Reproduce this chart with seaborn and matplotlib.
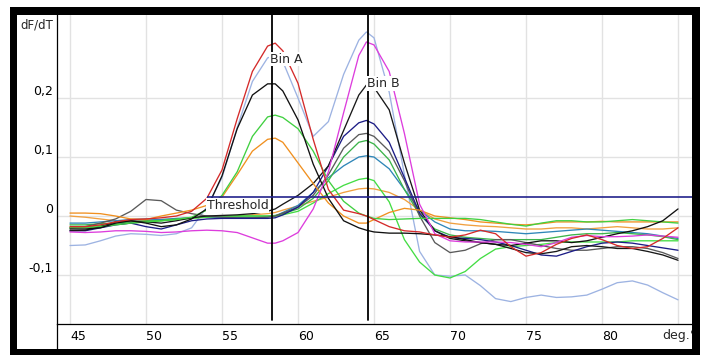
import numpy as np
import pandas as pd
import matplotlib
matplotlib.use("Agg")
import matplotlib.pyplot as plt
import seaborn as sns
from matplotlib.patches import Rectangle
from matplotlib.lines import Line2D
from matplotlib.transforms import Bbox, TransformedBbox

# ---------------- data ----------------
temps = [45, 46, 47, 48, 49, 50, 51, 52, 53, 54, 55, 56, 57, 58, 58.5,
         59, 60, 61, 62, 63, 64, 64.5, 65, 66, 67, 68, 69, 70, 71, 72,
         73, 74, 75, 76, 77, 78, 79, 80, 81, 82, 83, 84, 85]

pale_blue = [-0.05, -0.049, -0.042, -0.034, -0.03, -0.031, -0.033, -0.03, -0.02, 0.015,
             0.065, 0.15, 0.228, 0.268, 0.272, 0.262, 0.2, 0.135, 0.16, 0.24, 0.298, 0.312,
             0.302, 0.21, 0.07, -0.06, -0.1, -0.102, -0.1, -0.118, -0.14, -0.145, -0.138,
             -0.134, -0.138, -0.137, -0.134, -0.124, -0.113, -0.11, -0.117, -0.13, -0.142]
orange_b = [0.0, -0.002, -0.005, -0.008, -0.01, -0.008, -0.006, -0.005, -0.003, -0.002,
            -0.002, 0.0, 0.002, 0.004, 0.006, 0.01, 0.017, 0.025, 0.032, 0.04, 0.046, 0.047,
            0.046, 0.04, 0.028, 0.01, -0.005, -0.012, -0.015, -0.017, -0.018, -0.02, -0.022,
            -0.022, -0.02, -0.02, -0.022, -0.02, -0.018, -0.02, -0.022, -0.022, -0.02]
teal = [-0.012, -0.012, -0.01, -0.008, -0.006, -0.005, -0.006, -0.004, -0.003, -0.002,
        -0.002, -0.002, -0.002, -0.001, 0.0, 0.006, 0.018, 0.04, 0.065, 0.085, 0.1, 0.102,
        0.1, 0.08, 0.045, 0.01, -0.01, -0.022, -0.025, -0.025, -0.026, -0.028, -0.03,
        -0.028, -0.026, -0.024, -0.022, -0.024, -0.026, -0.028, -0.03, -0.034, -0.038]
green_b1 = [-0.015, -0.015, -0.013, -0.012, -0.01, -0.008, -0.008, -0.005, -0.003, -0.001,
            0.0, 0.0, 0.0, 0.0, 0.001, 0.004, 0.012, 0.03, 0.06, 0.1, 0.125, 0.128,
            0.122, 0.095, 0.045, 0.002, -0.022, -0.032, -0.036, -0.038, -0.04, -0.04, -0.04,
            -0.04, -0.036, -0.032, -0.03, -0.03, -0.028, -0.03, -0.032, -0.035, -0.04]
green_b2 = [-0.02, -0.019, -0.016, -0.014, -0.012, -0.01, -0.008, -0.006, -0.004, -0.002,
            0.0, 0.0, 0.0, 0.0, 0.0, 0.002, 0.008, 0.022, 0.038, 0.052, 0.062, 0.064,
            0.06, 0.024, -0.04, -0.078, -0.1, -0.105, -0.094, -0.072, -0.056, -0.052, -0.05,
            -0.048, -0.045, -0.044, -0.044, -0.044, -0.044, -0.042, -0.042, -0.042, -0.042]
gray = [-0.02, -0.018, -0.012, -0.005, 0.008, 0.028, 0.026, 0.01, 0.004, 0.0,
        -0.002, -0.003, -0.003, -0.002, 0.0, 0.005, 0.015, 0.035, 0.07, 0.115, 0.138, 0.14,
        0.135, 0.11, 0.06, 0.0, -0.045, -0.062, -0.058, -0.047, -0.04, -0.04, -0.045,
        -0.05, -0.055, -0.058, -0.058, -0.055, -0.052, -0.052, -0.055, -0.062, -0.072]
navy = [-0.025, -0.025, -0.02, -0.015, -0.012, -0.018, -0.022, -0.015, -0.008, -0.005,
        -0.004, -0.004, -0.004, -0.004, -0.003, 0.002, 0.015, 0.04, 0.085, 0.135, 0.158, 0.162,
        0.156, 0.125, 0.065, 0.005, -0.025, -0.036, -0.038, -0.04, -0.044, -0.05, -0.058,
        -0.066, -0.068, -0.06, -0.052, -0.046, -0.044, -0.046, -0.05, -0.054, -0.058]
black_b = [-0.025, -0.024, -0.018, -0.01, -0.008, -0.01, -0.012, -0.008, -0.003, 0.0,
           0.001, 0.002, 0.004, 0.008, 0.012, 0.02, 0.035, 0.055, 0.085, 0.145, 0.205, 0.222,
           0.218, 0.18, 0.09, 0.01, -0.025, -0.038, -0.042, -0.045, -0.048, -0.055, -0.062,
           -0.064, -0.06, -0.052, -0.05, -0.052, -0.055, -0.055, -0.06, -0.066, -0.075]
orange_a = [0.005, 0.005, 0.004, 0.0, -0.005, -0.006, 0.0, 0.005, 0.01, 0.018,
            0.032, 0.07, 0.11, 0.13, 0.132, 0.125, 0.09, 0.055, 0.022, 0.0, -0.012, -0.012,
            -0.006, 0.006, 0.013, 0.01, 0.0, -0.003, -0.006, -0.01, -0.012, -0.014, -0.015,
            -0.013, -0.01, -0.01, -0.01, -0.009, -0.01, -0.01, -0.01, -0.01, -0.01]
green_a = [-0.02, -0.02, -0.018, -0.015, -0.012, -0.01, -0.008, -0.006, -0.002, 0.01,
           0.035, 0.075, 0.135, 0.168, 0.171, 0.167, 0.148, 0.11, 0.06, 0.025, 0.005, 0.0,
           -0.004, -0.006, -0.005, -0.004, -0.004, -0.004, -0.004, -0.006, -0.01, -0.014, -0.017,
           -0.012, -0.008, -0.008, -0.01, -0.01, -0.008, -0.006, -0.008, -0.01, -0.012]
black_a = [-0.022, -0.022, -0.02, -0.012, -0.008, -0.012, -0.018, -0.015, -0.005, 0.012,
           0.068, 0.148, 0.205, 0.224, 0.224, 0.212, 0.163, 0.088, 0.03, -0.008, -0.02, -0.024,
           -0.027, -0.029, -0.029, -0.03, -0.032, -0.035, -0.04, -0.045, -0.048, -0.05, -0.046,
           -0.042, -0.042, -0.045, -0.042, -0.036, -0.03, -0.025, -0.018, -0.008, 0.012]
magenta = [-0.027, -0.028, -0.027, -0.025, -0.025, -0.026, -0.028, -0.027, -0.025, -0.024,
           -0.025, -0.028, -0.037, -0.046, -0.046, -0.042, -0.028, 0.012, 0.075, 0.175, 0.272, 0.295,
           0.29, 0.245, 0.14, 0.02, -0.03, -0.042, -0.044, -0.044, -0.044, -0.045, -0.048,
           -0.052, -0.045, -0.036, -0.033, -0.035, -0.035, -0.034, -0.032, -0.034, -0.036]
red = [-0.018, -0.018, -0.015, -0.01, -0.006, -0.005, -0.003, 0.0, 0.008, 0.03,
       0.078, 0.165, 0.245, 0.288, 0.293, 0.28, 0.225, 0.13, 0.045, 0.01, 0.004, 0.0,
       -0.006, -0.018, -0.025, -0.027, -0.032, -0.036, -0.032, -0.024, -0.03, -0.052, -0.068,
       -0.062, -0.048, -0.038, -0.032, -0.04, -0.05, -0.055, -0.052, -0.038, -0.02]

series = {
    "pale_blue": pale_blue, "orange_b": orange_b, "teal": teal, "green_b1": green_b1,
    "green_b2": green_b2, "gray": gray, "navy": navy, "black_b": black_b,
    "orange_a": orange_a, "green_a": green_a, "black_a": black_a,
    "magenta": magenta, "red": red,
}
palette = {
    "pale_blue": "#9db3e2", "orange_b": "#f0a040", "teal": "#2f86b8", "green_b1": "#3cb44a",
    "green_b2": "#44dd44", "gray": "#5a5a5a", "navy": "#1c1c86", "black_b": "#181818",
    "orange_a": "#f09020", "green_a": "#40d040", "black_a": "#101010",
    "magenta": "#dd3ddd", "red": "#d42a2a",
}

bin_a, bin_b = 58.3, 64.6
threshold = 0.032
threshold_start = 54.0
xticks = [45, 50, 55, 60, 65, 70, 75, 80, 85]
xticklabels = ["45", "50", "55", "60", "65", "70", "75", "80", ""]
yticks = [-0.1, 0.0, 0.1, 0.2]
yticklabels = ["-0,1", "0", "0,1", "0,2"]

df = pd.concat([pd.DataFrame({"temp": temps, "dfdt": v, "curve": k})
                for k, v in series.items()], ignore_index=True)

# ---------------- figure ----------------
sns.set_style("white")
plt.rcParams['font.family'] = ['DejaVu Sans']

W, H = 704, 355
fig = plt.figure(figsize=(W / 100, H / 100), dpi=100)
fx = lambda px: px / W
fy = lambda py: 1 - py / H

ax = fig.add_axes([fx(57), fy(324), fx(692) - fx(57), fy(15) - fy(324)])

sns.lineplot(data=df, x="temp", y="dfdt", hue="curve", hue_order=list(series.keys()),
             palette=palette, estimator=None, sort=False, legend=False,
             linewidth=0.95, ax=ax, zorder=3)

ax.set_xlim(44.145, 85.92)
ax.set_ylim(-0.183, 0.3407)
ax.set_xticks(xticks)
ax.set_xticklabels(xticklabels, fontsize=9)
ax.set_yticks(yticks)
ax.set_yticklabels(yticklabels, fontsize=9)
for lbl in ax.get_xticklabels():
    lbl.set_horizontalalignment("left")
for lbl in ax.get_yticklabels():
    lbl.set_verticalalignment("bottom")
ax.tick_params(axis="x", direction="out", length=6, width=0.8, pad=-2, colors="black")
ax.tick_params(axis="y", direction="out", length=6.5, width=0.8, pad=-3.6, colors="black")
ax.set_xlabel("")
ax.set_ylabel("")
ax.grid(True, color="#e2e2e2", linewidth=1)
ax.set_axisbelow(True)
for s in ["top", "right"]:
    ax.spines[s].set_visible(False)
for s in ["left", "bottom"]:
    ax.spines[s].set_color("black")
    ax.spines[s].set_linewidth(0.9)

box = dict(facecolor="white", edgecolor="none", pad=0.6)
ax.axvline(bin_a, ymin=0.013, ymax=1, color="black", lw=1.3, zorder=5)
ax.axvline(bin_b, ymin=0.013, ymax=1, color="black", lw=1.3, zorder=5)
ax.hlines(threshold, threshold_start, 85.92, color="#22228c", lw=1.2, zorder=5)
ax.text(bin_a - 0.12, 0.266, "Bin A", ha="left", va="center", fontsize=9, bbox=box, zorder=6)
ax.text(bin_b - 0.05, 0.225, "Bin B", ha="left", va="center", fontsize=9, bbox=box, zorder=6)
ax.text(threshold_start, 0.0175, "Threshold", ha="left", va="center", fontsize=9, bbox=box, zorder=6)

fig.text(fx(53), fy(29), "dF/dT", ha="right", va="baseline", fontsize=8.5)
t = fig.text(fx(662), fy(329), "deg.°C", ha="left", va="top", fontsize=9)
t.set_clip_box(TransformedBbox(Bbox([[0, 0], [fx(692), 1]]), fig.transFigure))
t.set_clip_on(True)

fig.add_artist(Line2D([fx(57), fx(57)], [fy(324), fy(349)], color="black", lw=0.9))

# thick outer frame
for (x0, y0, x1, y1) in [(10, 7, 17, 356), (10, 7, 700, 15), (692, 7, 700, 356), (10, 349, 700, 356)]:
    fig.add_artist(Rectangle((fx(x0), fy(y1)), fx(x1) - fx(x0), fy(y0) - fy(y1),
                             transform=fig.transFigure, facecolor="black",
                             edgecolor="none", zorder=20))

fig.savefig("out.png", dpi=100)
